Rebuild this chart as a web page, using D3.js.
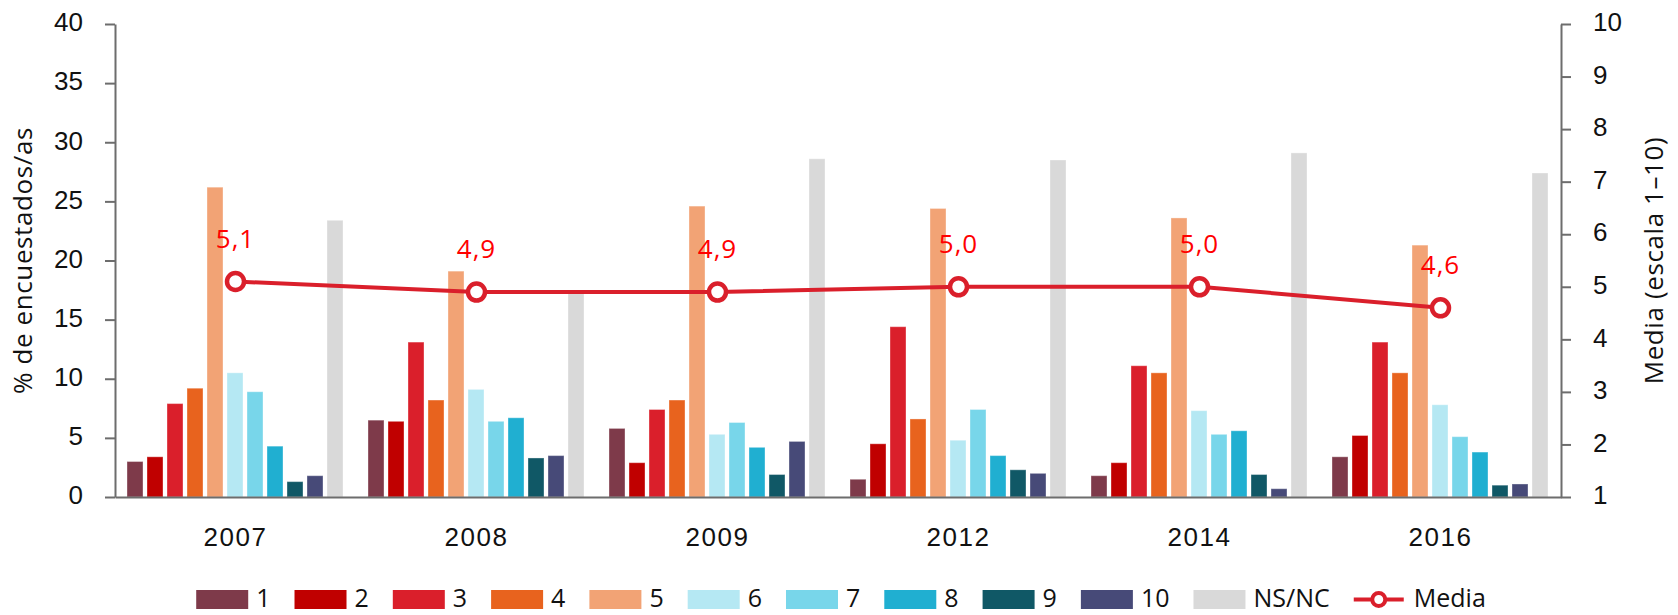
<!DOCTYPE html>
<html>
<head>
<meta charset="utf-8">
<script src="https://cdn.jsdelivr.net/npm/d3@7"></script>
<style>
  html, body { margin: 0; padding: 0; background: #fff; }
  svg { display: block; font-family: "Open Sans", "DejaVu Sans", sans-serif; }
</style>
</head>
<body>
<svg id="chart" width="1678" height="615"></svg>
<script>
// Survey years (x categories)
const years = ["2007", "2008", "2009", "2012", "2014", "2016"];

// Response categories on the 1–10 scale plus "don't know / no answer"
const seriesNames = ["1", "2", "3", "4", "5", "6", "7", "8", "9", "10", "NS/NC"];

// % of respondents per year for each response
const s1   = [3.0, 6.5, 5.8, 1.5, 1.8, 3.4];
const s2   = [3.4, 6.4, 2.9, 4.5, 2.9, 5.2];
const s3   = [7.9, 13.1, 7.4, 14.4, 11.1, 13.1];
const s4   = [9.2, 8.2, 8.2, 6.6, 10.5, 10.5];
const s5   = [26.2, 19.1, 24.6, 24.4, 23.6, 21.3];
const s6   = [10.5, 9.1, 5.3, 4.8, 7.3, 7.8];
const s7   = [8.9, 6.4, 6.3, 7.4, 5.3, 5.1];
const s8   = [4.3, 6.7, 4.2, 3.5, 5.6, 3.8];
const s9   = [1.3, 3.3, 1.9, 2.3, 1.9, 1.0];
const s10  = [1.8, 3.5, 4.7, 2.0, 0.7, 1.1];
const nsnc = [23.4, 17.2, 28.6, 28.5, 29.1, 27.4];

// Mean score (right axis, scale 1–10)
const media = [5.1, 4.9, 4.9, 5.0, 5.0, 4.6];

// Axis ticks
const leftTicks  = [0, 5, 10, 15, 20, 25, 30, 35, 40];
const rightTicks = [1, 2, 3, 4, 5, 6, 7, 8, 9, 10];

const seriesValues = [s1, s2, s3, s4, s5, s6, s7, s8, s9, s10, nsnc];
const colors = ["#7e3a4a", "#c00000", "#da1f2b", "#e8631e", "#f2a375",
                "#b5e8f3", "#78d6ea", "#20afd1", "#105866", "#474a78", "#d9d9d9"];
const lineColor = "#da1f2b";
const labelColor = "#ff0000";
const axisColor = "#6d6d6d";

const svg = d3.select("#chart");
const plot = { left: 115, right: 1561, top: 24, bottom: 497 };

const x = d3.scaleBand().domain(years).range([plot.left, plot.right]).padding(0);
const xs = d3.scaleBand().domain(seriesNames).range([12, x.bandwidth() - 13])
  .paddingInner(0.2).paddingOuter(0);
const yL = d3.scaleLinear().domain([0, 40]).range([plot.bottom, plot.top]);
const yR = d3.scaleLinear().domain([1, 10]).range([plot.bottom, plot.top]);

// Bars
const groups = svg.append("g").selectAll("g")
  .data(years)
  .join("g")
  .attr("transform", d => `translate(${x(d)},0)`);

groups.selectAll("rect")
  .data((yr, yi) => seriesNames.map((s, si) => ({ s, si, v: seriesValues[si][yi] })))
  .join("rect")
  .attr("x", d => xs(d.s))
  .attr("width", xs.bandwidth())
  .attr("y", d => yL(d.v))
  .attr("height", d => yL(0) - yL(d.v))
  .attr("fill", d => colors[d.si])
  .attr("stroke", "rgba(255,255,255,0.35)")
  .attr("stroke-width", 1);

// Axes
function styleAxis(g) {
  g.select(".domain").attr("stroke", axisColor).attr("stroke-width", 2);
  g.selectAll(".tick line").attr("stroke", axisColor).attr("stroke-width", 2);
  g.selectAll(".tick text").attr("fill", "#111").attr("font-size", 26).attr("dy", "0.26em");
}

const gL = svg.append("g").attr("transform", `translate(${plot.left},0)`)
  .call(d3.axisLeft(yL).tickValues(leftTicks).tickSize(10).tickPadding(22).tickSizeOuter(0));
styleAxis(gL);

const gR = svg.append("g").attr("transform", `translate(${plot.right},0)`)
  .call(d3.axisRight(yR).tickValues(rightTicks).tickSize(10).tickPadding(22).tickSizeOuter(0));
styleAxis(gR);

const gX = svg.append("g").attr("transform", `translate(0,${plot.bottom})`)
  .call(d3.axisBottom(x).tickSize(0).tickPadding(0).tickSizeOuter(0));
gX.select(".domain").attr("stroke", axisColor).attr("stroke-width", 2);
gX.selectAll(".tick text").attr("fill", "#111").attr("font-size", 26)
  .attr("letter-spacing", 1.5).attr("dy", 0).attr("y", 49);

// Axis titles
const midY = (plot.top + plot.bottom) / 2;
svg.append("text")
  .attr("transform", `translate(32,${midY}) rotate(-90)`)
  .attr("text-anchor", "middle").attr("font-size", 26).attr("letter-spacing", 0.6)
  .attr("fill", "#111").text("% de encuestados/as");

svg.append("text")
  .attr("transform", `translate(1663,${midY}) rotate(-90)`)
  .attr("text-anchor", "middle").attr("font-size", 26).attr("letter-spacing", 0.6)
  .attr("fill", "#111").text("Media (escala 1–10)");

// Mean line
const cx = (d, i) => x(years[i]) + x.bandwidth() / 2;
svg.append("path")
  .datum(media)
  .attr("fill", "none").attr("stroke", lineColor).attr("stroke-width", 4)
  .attr("d", d3.line().x((d, i) => cx(d, i)).y(d => yR(d)));

svg.append("g").selectAll("circle")
  .data(media).join("circle")
  .attr("cx", cx).attr("cy", d => yR(d)).attr("r", 8.5)
  .attr("fill", "#fff").attr("stroke", lineColor).attr("stroke-width", 4.5);

svg.append("g").selectAll("text")
  .data(media).join("text")
  .attr("x", cx).attr("y", d => yR(d) - 34)
  .attr("text-anchor", "middle").attr("font-size", 26).attr("letter-spacing", 1)
  .attr("fill", labelColor)
  .text(d => d.toFixed(1).replace(".", ","));

// Legend
const legend = svg.append("g");
const legendItems = seriesNames.map((s, i) => ({ label: s, color: colors[i], kind: "bar" }))
  .concat([{ label: "Media", color: lineColor, kind: "line" }]);
const swW = 52, swH = 19, swGap = 8, itemGap = 24, legY = 590;
let cursor = 0;
legendItems.forEach(item => {
  const g = legend.append("g").attr("transform", `translate(${cursor},0)`);
  if (item.kind === "bar") {
    g.append("rect").attr("x", 0).attr("y", legY).attr("width", swW).attr("height", swH)
      .attr("fill", item.color);
  } else {
    g.append("line").attr("x1", 0).attr("x2", swW - 2).attr("y1", legY + swH / 2).attr("y2", legY + swH / 2)
      .attr("stroke", item.color).attr("stroke-width", 4);
    g.append("circle").attr("cx", (swW - 2) / 2).attr("cy", legY + swH / 2).attr("r", 6.5)
      .attr("fill", "#fff").attr("stroke", item.color).attr("stroke-width", 4);
  }
  const t = g.append("text").attr("x", swW + swGap).attr("y", legY + 17)
    .attr("font-size", 25).attr("fill", "#111").text(item.label);
  cursor += swW + swGap + t.node().getComputedTextLength() + itemGap;
});
const legendWidth = cursor - itemGap;
legend.attr("transform", `translate(${(plot.left + plot.right) / 2 + 3 - legendWidth / 2},0)`);
</script>
</body>
</html>
